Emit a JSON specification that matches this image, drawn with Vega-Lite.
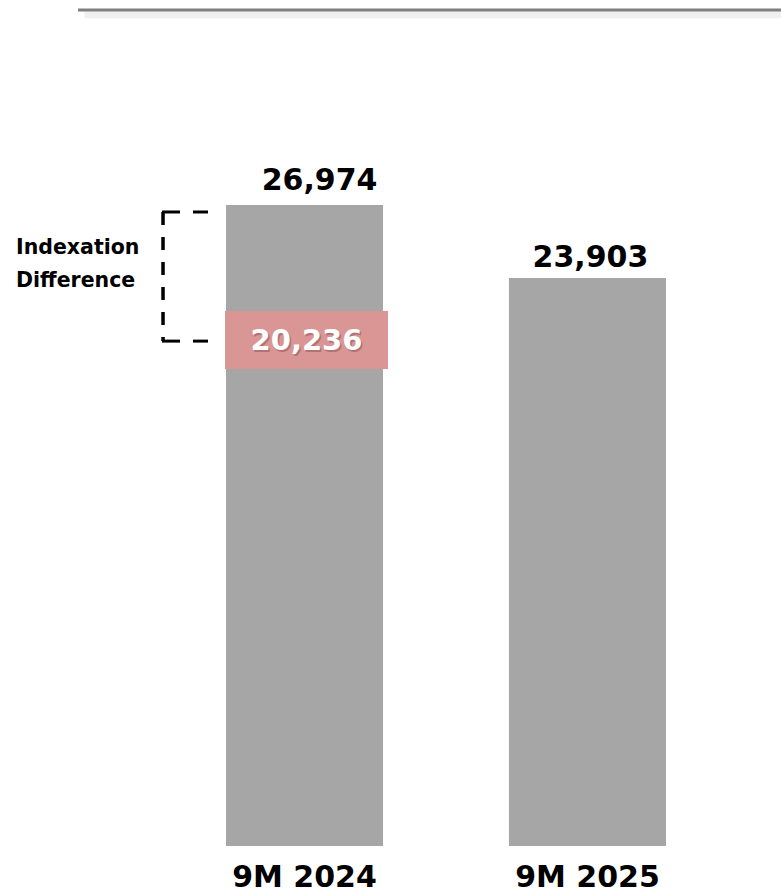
{
  "$schema": "https://vega.github.io/schema/vega-lite/v6.json",
  "width": 781,
  "height": 846,
  "padding": {"top": 0, "left": 0, "right": 0, "bottom": 46},
  "autosize": {"type": "none"},
  "background": "white",
  "config": {"view": {"stroke": null}, "font": "DejaVu Sans"},
  "data": {
    "values": [
      {"period": "9M 2024", "value": 26974, "indexed": 20236},
      {"period": "9M 2025", "value": 23903}
    ]
  },
  "layer": [
    {
      "mark": {"type": "bar", "color": "#a6a6a6"},
      "encoding": {
        "x": {
          "field": "period",
          "type": "nominal",
          "sort": null,
          "scale": {"range": [226, 666], "paddingInner": 0.445, "paddingOuter": 0},
          "axis": {
            "title": null,
            "ticks": false,
            "domain": false,
            "labelAngle": 0,
            "labelFont": "DejaVu Sans",
            "labelFontSize": 30,
            "labelFontWeight": "bold",
            "labelColor": "#000000",
            "labelPadding": 16
          }
        },
        "y": {"field": "value", "type": "quantitative", "scale": {"domain": [0, 35600], "nice": false, "zero": true}, "axis": null}
      }
    },
    {
      "transform": [{"filter": "isValid(datum.indexed)"}],
      "mark": {"type": "tick", "color": "#f0f0f0", "opacity": 1, "size": 698, "thickness": 7, "xOffset": 129},
      "encoding": {
        "x": {"field": "period", "type": "nominal", "sort": null},
        "y": {"datum": 34980, "type": "quantitative"}
      }
    },
    {
      "transform": [{"filter": "isValid(datum.indexed)"}],
      "mark": {"type": "tick", "color": "#7f7f7f", "opacity": 1, "size": 703, "thickness": 3, "xOffset": 125},
      "encoding": {
        "x": {"field": "period", "type": "nominal", "sort": null},
        "y": {"datum": 35179, "type": "quantitative"}
      }
    },
    {
      "transform": [{"filter": "datum.period === '9M 2024'"}],
      "mark": {"type": "text", "font": "DejaVu Sans", "fontSize": 30, "fontWeight": "bold", "color": "#000000", "baseline": "alphabetic", "dx": 15, "dy": -15},
      "encoding": {
        "x": {"field": "period", "type": "nominal", "sort": null},
        "y": {"field": "value", "type": "quantitative"},
        "text": {"field": "value", "type": "quantitative", "format": ","}
      }
    },
    {
      "transform": [{"filter": "datum.period === '9M 2025'"}],
      "mark": {"type": "text", "font": "DejaVu Sans", "fontSize": 30, "fontWeight": "bold", "color": "#000000", "baseline": "alphabetic", "dx": 3, "dy": -11},
      "encoding": {
        "x": {"field": "period", "type": "nominal", "sort": null},
        "y": {"field": "value", "type": "quantitative"},
        "text": {"field": "value", "type": "quantitative", "format": ","}
      }
    },
    {
      "transform": [{"filter": "isValid(datum.indexed)"}],
      "mark": {"type": "bar", "color": "#d99694", "width": 163, "xOffset": 2, "yOffset": 4, "y2Offset": -54},
      "encoding": {
        "x": {"field": "period", "type": "nominal", "sort": null},
        "y": {"field": "indexed", "type": "quantitative"},
        "y2": {"field": "indexed"}
      }
    },
    {
      "transform": [{"filter": "isValid(datum.indexed)"}],
      "mark": {"type": "text", "font": "DejaVu Sans", "fontSize": 29, "fontWeight": "bold", "color": "#7a4040", "opacity": 0.4, "baseline": "alphabetic", "dx": 3.5, "dy": -13.5},
      "encoding": {
        "x": {"field": "period", "type": "nominal", "sort": null},
        "y": {"field": "indexed", "type": "quantitative"},
        "text": {"field": "indexed", "type": "quantitative", "format": ","}
      }
    },
    {
      "transform": [{"filter": "isValid(datum.indexed)"}],
      "mark": {"type": "text", "font": "DejaVu Sans", "fontSize": 29, "fontWeight": "bold", "color": "#ffffff", "baseline": "alphabetic", "dx": 2, "dy": -15},
      "encoding": {
        "x": {"field": "period", "type": "nominal", "sort": null},
        "y": {"field": "indexed", "type": "quantitative"},
        "text": {"field": "indexed", "type": "quantitative", "format": ","}
      }
    },
    {
      "transform": [{"filter": "isValid(datum.indexed)"}],
      "mark": {"type": "rule", "stroke": "#000000", "strokeWidth": 3.5, "strokeDash": [13, 12], "xOffset": -141.5, "yOffset": 7, "y2Offset": -24},
      "encoding": {
        "x": {"field": "period", "type": "nominal", "sort": null},
        "y": {"field": "value", "type": "quantitative"},
        "y2": {"field": "indexed"}
      }
    },
    {
      "transform": [{"filter": "isValid(datum.indexed)"}],
      "mark": {"type": "tick", "color": "#000000", "opacity": 1, "size": 18, "thickness": 3, "xOffset": -133.5, "yOffset": 7},
      "encoding": {
        "x": {"field": "period", "type": "nominal", "sort": null},
        "y": {"field": "value", "type": "quantitative"}
      }
    },
    {
      "transform": [{"filter": "isValid(datum.indexed)"}],
      "mark": {"type": "tick", "color": "#000000", "opacity": 1, "size": 15, "thickness": 3, "xOffset": -104, "yOffset": 7},
      "encoding": {
        "x": {"field": "period", "type": "nominal", "sort": null},
        "y": {"field": "value", "type": "quantitative"}
      }
    },
    {
      "transform": [{"filter": "isValid(datum.indexed)"}],
      "mark": {"type": "tick", "color": "#000000", "opacity": 1, "size": 18, "thickness": 3, "xOffset": -133.5, "yOffset": -24},
      "encoding": {
        "x": {"field": "period", "type": "nominal", "sort": null},
        "y": {"field": "indexed", "type": "quantitative"}
      }
    },
    {
      "transform": [{"filter": "isValid(datum.indexed)"}],
      "mark": {"type": "tick", "color": "#000000", "opacity": 1, "size": 15, "thickness": 3, "xOffset": -104, "yOffset": -24},
      "encoding": {
        "x": {"field": "period", "type": "nominal", "sort": null},
        "y": {"field": "indexed", "type": "quantitative"}
      }
    },
    {
      "transform": [{"filter": "isValid(datum.indexed)"}],
      "mark": {"type": "text", "font": "DejaVu Sans", "fontSize": 20.5, "fontWeight": "bold", "color": "#000000", "align": "left", "baseline": "alphabetic", "dx": -288.5, "dy": 49, "lineHeight": 33},
      "encoding": {
        "x": {"field": "period", "type": "nominal", "sort": null},
        "y": {"field": "value", "type": "quantitative"},
        "text": {"value": ["Indexation", "Difference"]}
      }
    }
  ]
}
